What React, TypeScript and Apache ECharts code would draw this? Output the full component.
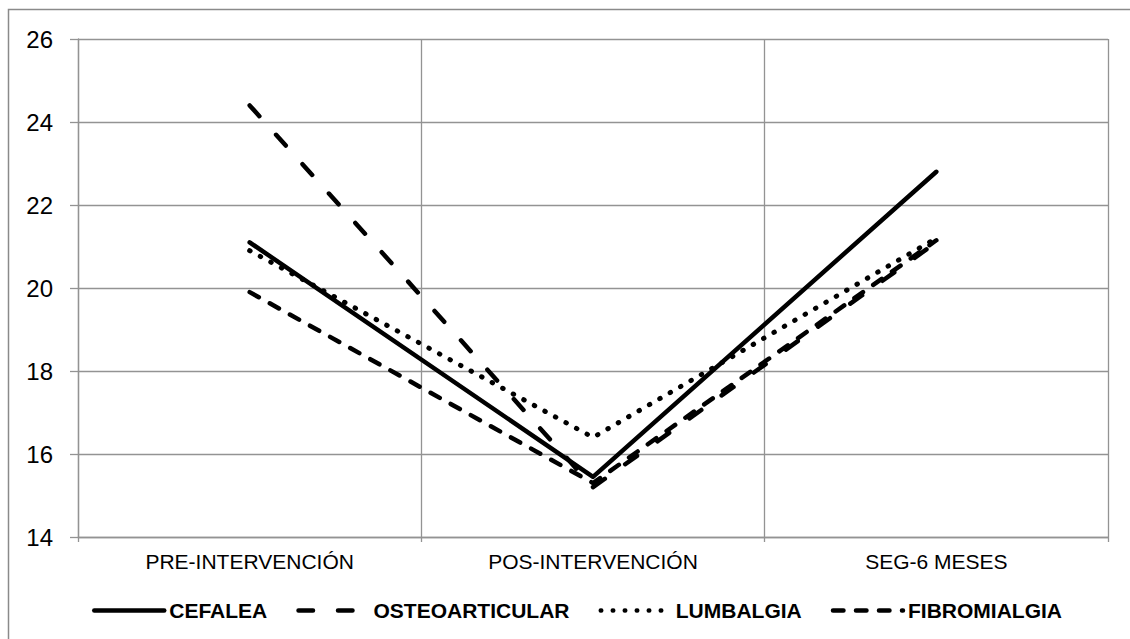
import React, { useEffect, useRef } from "react";
import * as echarts from "echarts";

const categories = ["PRE-INTERVENCIÓN", "POS-INTERVENCIÓN", "SEG-6 MESES"];
const seriesNames = ["CEFALEA", "OSTEOARTICULAR", "LUMBALGIA", "FIBROMIALGIA"];
const cefalea = [21.1, 15.45, 22.8];
const osteoarticular = [24.4, 15.2, 21.1];
const lumbalgia = [20.9, 16.4, 21.2];
const fibromialgia = [19.9, 15.3, 21.15];
const yMin = 14;
const yMax = 26;
const yStep = 2;

const FONT = "'Liberation Sans', Arial, sans-serif";
const GRID_COLOR = "#939393";

export default function App() {
  const ref = useRef<HTMLDivElement>(null);
  useEffect(() => {
    if (!ref.current) return;
    const chart = echarts.init(ref.current, null, { renderer: "svg" });
    const mk = (name: string, data: number[], type: any, width: number, z: number) => ({
      name,
      type: "line",
      data,
      symbol: "none",
      z,
      itemStyle: { color: "#000" },
      lineStyle: { color: "#000", width, type, cap: "round", join: "round" },
    });
    chart.setOption({
      animation: false,
      backgroundColor: "#fff",
      color: ["#000"],
      textStyle: { fontFamily: FONT },
      graphic: [
        {
          type: "rect",
          shape: { x: 8.5, y: 9.5, width: 1130, height: 640 },
          style: { fill: "none", stroke: "#8a8a8a", lineWidth: 1.5 },
          silent: true,
        },
      ],
      grid: { left: 78, top: 39, right: 22, bottom: 102, containLabel: false },
      xAxis: {
        type: "category",
        data: categories,
        boundaryGap: true,
        axisLine: { show: true, lineStyle: { color: GRID_COLOR, width: 1.3 } },
        axisTick: { show: true, interval: 0, length: 5, lineStyle: { color: GRID_COLOR, width: 1.3 } },
        splitLine: { show: true, interval: 0, lineStyle: { color: GRID_COLOR, width: 1.3 } },
        axisLabel: { color: "#000", fontSize: 21, fontFamily: FONT, margin: 14, interval: 0 },
      },
      yAxis: {
        type: "value",
        min: yMin,
        max: yMax,
        interval: yStep,
        axisLine: { show: true, lineStyle: { color: GRID_COLOR, width: 1.3 } },
        axisTick: { show: true, length: 8, lineStyle: { color: GRID_COLOR, width: 1.3 } },
        splitLine: { show: true, lineStyle: { color: GRID_COLOR, width: 1.3 } },
        axisLabel: { color: "#000", fontSize: 24, fontFamily: FONT, margin: 25 },
      },
      legend: {
        left: 87,
        top: 595,
        itemWidth: 70,
        itemHeight: 22,
        itemGap: 29,
        data: seriesNames,
        itemStyle: { opacity: 0, borderWidth: 0 },
        lineStyle: { width: 4.5, color: "#000", cap: "round" },
        textStyle: { color: "#000", fontSize: 21, fontWeight: "bold", fontFamily: FONT },
      },
      series: [
        mk(seriesNames[0], cefalea, "solid", 4.5, 5),
        mk(seriesNames[1], osteoarticular, [14.5, 25], 4.5, 4),
        mk(seriesNames[2], lumbalgia, [0.5, 11.5], 5, 3),
        mk(seriesNames[3], fibromialgia, [10.5, 12.5], 4.5, 2),
      ],
    });
    return () => chart.dispose();
  }, []);
  return (
    <div
      ref={ref}
      style={{ position: "absolute", left: 0, top: 0, width: 1130, height: 639 }}
    />
  );
}
